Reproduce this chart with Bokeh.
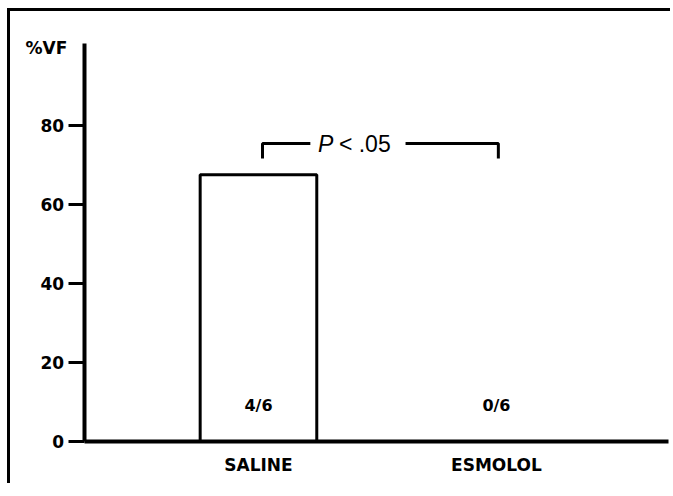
from bokeh.plotting import figure
from bokeh.models import Range1d, FixedTicker, LinearAxis, ColumnDataSource
from bokeh.core.properties import value
from bokeh.embed import file_html
from bokeh.resources import INLINE

# data
categories = ["SALINE", "ESMOLOL"]
pct_vf = [67.5, 0.0]
counts = ["4/6", "0/6"]
y_ticks = [0, 20, 40, 60, 80]
y_label = "%VF"
p_italic = "P"
p_rest = "< .05"

xpos = [i + 1 for i in range(len(categories))]
BOLD = "DejaVu Sans"
PLAIN = "Liberation Sans"

X0, X1 = -0.042, 2.744
XAX_END = 2.723
AX = 0.267  # y-axis position (data x)

p = figure(width=663, height=475, output_backend="svg", toolbar_location=None,
           x_range=Range1d(X0, X1), y_range=Range1d(-11.4, 104),
           y_axis_location=None, x_axis_location=None,
           min_border_left=0, min_border_right=0, min_border_top=19, min_border_bottom=0)
p.styles = {"border-top": "3px solid black", "border-left": "3px solid black",
            "margin-top": "8px", "margin-left": "7px"}
p.grid.visible = False
p.outline_line_color = None
p.background_fill_color = "white"
p.border_fill_color = "white"

nz = ColumnDataSource(dict(x=[x for x, v in zip(xpos, pct_vf) if v > 0],
                           top=[v for v in pct_vf if v > 0]))
p.vbar(x="x", top="top", bottom=0, width=0.49, source=nz,
       fill_color="white", line_color="black", line_width=3)

# count labels
p.text(x=xpos, y=[9] * len(xpos), text=counts, text_align="center", text_baseline="middle",
       text_font=value(BOLD), text_font_style="bold", text_font_size="16px", text_color="black")

# significance bracket
bx0, bx1, by_top, by_bot = 1.017, 2.008, 75.4, 71.6
p.line(x=[bx0, bx0, 1.218], y=[by_bot, by_top, by_top], line_color="black", line_width=3)
p.line(x=[1.618, bx1, bx1], y=[by_top, by_top, by_bot], line_color="black", line_width=3)
p.text(x=[1.315], y=[by_top], text=[p_italic], text_align="right", text_baseline="middle",
       text_font=value(PLAIN), text_font_style="italic", text_font_size="23px", text_color="black")
p.text(x=[1.338], y=[by_top], text=[p_rest], text_align="left", text_baseline="middle",
       text_font=value(PLAIN), text_font_style="normal", text_font_size="23px", text_color="black")

# y label
p.text(x=[0.197], y=[99.5], text=[y_label], text_align="right", text_baseline="middle",
       text_font=value(BOLD), text_font_style="bold", text_font_size="17px", text_color="black")

# x axis at y = 0
xa = LinearAxis(fixed_location=0, bounds=(AX, XAX_END))
xa.ticker = FixedTicker(ticks=xpos)
xa.major_label_overrides = {x: c for x, c in zip(xpos, categories)}
xa.axis_line_width = 4
xa.axis_line_color = "black"
xa.major_tick_line_color = None
xa.minor_tick_line_color = None
xa.major_label_standoff = 8
xa.major_label_text_font = BOLD
xa.major_label_text_font_style = "bold"
xa.major_label_text_font_size = "17px"
xa.major_label_text_color = "black"
p.add_layout(xa, "below")

# y axis at fixed x location
ya = LinearAxis(fixed_location=AX, bounds=(0, 100.8))
ya.ticker = FixedTicker(ticks=y_ticks)
ya.axis_line_width = 4
ya.axis_line_color = "black"
ya.major_tick_line_width = 3
ya.major_tick_out = 16
ya.major_tick_in = 0
ya.minor_tick_line_color = None
ya.major_label_standoff = 4
ya.major_label_text_font = BOLD
ya.major_label_text_font_style = "bold"
ya.major_label_text_font_size = "17px"
ya.major_label_text_color = "black"
p.add_layout(ya, "left")

open("out.html", "w").write(file_html(p, INLINE))
